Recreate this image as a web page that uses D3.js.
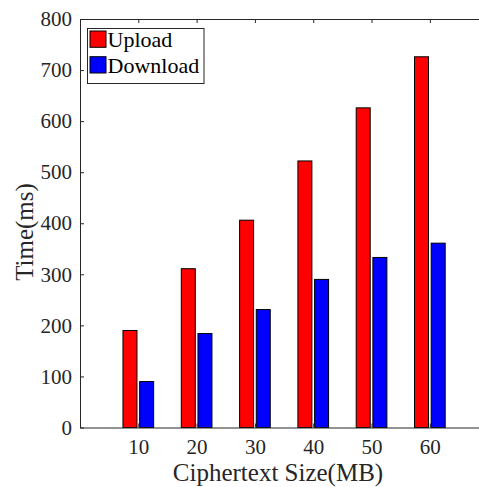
<!DOCTYPE html>
<html>
<head>
<meta charset="utf-8">
<script src="https://cdn.jsdelivr.net/npm/d3@7"></script>
<style>
  html, body { margin: 0; padding: 0; background: #fff; }
  svg { display: block; }
  text { font-family: "Liberation Serif", "Times New Roman", serif; fill: #262626; }
</style>
</head>
<body>
<svg id="chart" width="479" height="487"></svg>
<script>
const categories = [10, 20, 30, 40, 50, 60];
const uploadValues = [190, 311, 406, 522, 626, 726];
const downloadValues = [90, 184, 231, 290, 333, 361];
const yTicks = [0, 100, 200, 300, 400, 500, 600, 700, 800];
const seriesNames = ["Upload", "Download"];
const seriesColors = ["#ff0000", "#0000ff"];

const svg = d3.select("#chart");
const axisColor = "#262626";
const serif = '"Liberation Serif", "Times New Roman", serif';
const mLeft = 80, mRight = 480, mTop = 19, mBottom = 427.5;

const x = d3.scaleLinear().domain([0, 68.6]).range([mLeft, mRight]);
const y = d3.scaleLinear().domain([0, 800]).range([mBottom, mTop]);

const step = x(10) - x(0);
const barW = step * 0.24;
const offset = step * 0.143;

const series = [uploadValues, downloadValues];

// bars
series.forEach((vals, si) => {
  svg.append("g").selectAll("rect")
    .data(categories.map((c, i) => ({ c, v: vals[i] })))
    .join("rect")
    .attr("x", d => x(d.c) + (si === 0 ? -offset : offset) - barW / 2)
    .attr("y", d => y(d.v))
    .attr("width", barW)
    .attr("height", d => y(0) - y(d.v))
    .attr("fill", seriesColors[si])
    .attr("stroke", "#000")
    .attr("stroke-width", 1);
});

// axes
const fontTick = "21px";
const xAxisB = d3.axisBottom(x).tickValues(categories).tickSizeInner(-4).tickSizeOuter(0).tickPadding(11.5);
const gxb = svg.append("g").attr("transform", `translate(0,${mBottom})`).call(xAxisB);

const xAxisT = d3.axisTop(x).tickValues(categories).tickSizeInner(-4).tickSizeOuter(0).tickFormat("");
const gxt = svg.append("g").attr("transform", `translate(0,${mTop})`).call(xAxisT);

const yAxisL = d3.axisLeft(y).tickValues(yTicks).tickSizeInner(-4).tickSizeOuter(0).tickPadding(8);
const gyl = svg.append("g").attr("transform", `translate(${mLeft},0)`).call(yAxisL);

[gxb, gxt, gyl].forEach(g => {
  g.attr("font-family", serif).attr("font-size", fontTick);
  g.selectAll("text").style("font-family", serif).style("font-size", fontTick).style("fill", axisColor);
  g.select(".domain").attr("stroke", axisColor).attr("stroke-width", 1);
  g.selectAll(".tick line").attr("stroke", axisColor).attr("stroke-width", 1);
});

// titles
svg.append("text")
  .attr("x", 278).attr("y", 481)
  .attr("text-anchor", "middle")
  .style("font-size", "25px")
  .text("Ciphertext Size(MB)");

svg.append("text")
  .attr("transform", "translate(33,232) rotate(-90)")
  .attr("text-anchor", "middle")
  .style("font-size", "25px")
  .text("Time(ms)");

// legend
const lg = svg.append("g");
lg.append("rect")
  .attr("x", 87.5).attr("y", 28.5).attr("width", 116.5).attr("height", 55)
  .attr("fill", "#fff").attr("stroke", axisColor).attr("stroke-width", 1);
seriesNames.forEach((name, i) => {
  const yy = 31 + i * 25.7;
  lg.append("rect")
    .attr("x", 90).attr("y", yy).attr("width", 16).attr("height", 16.3)
    .attr("fill", seriesColors[i]).attr("stroke", "#000").attr("stroke-width", 1);
  lg.append("text")
    .attr("x", 107.5).attr("y", yy + 15.8)
    .style("font-size", "22px")
    .style("fill", "#000")
    .text(name);
});
</script>
</body>
</html>
